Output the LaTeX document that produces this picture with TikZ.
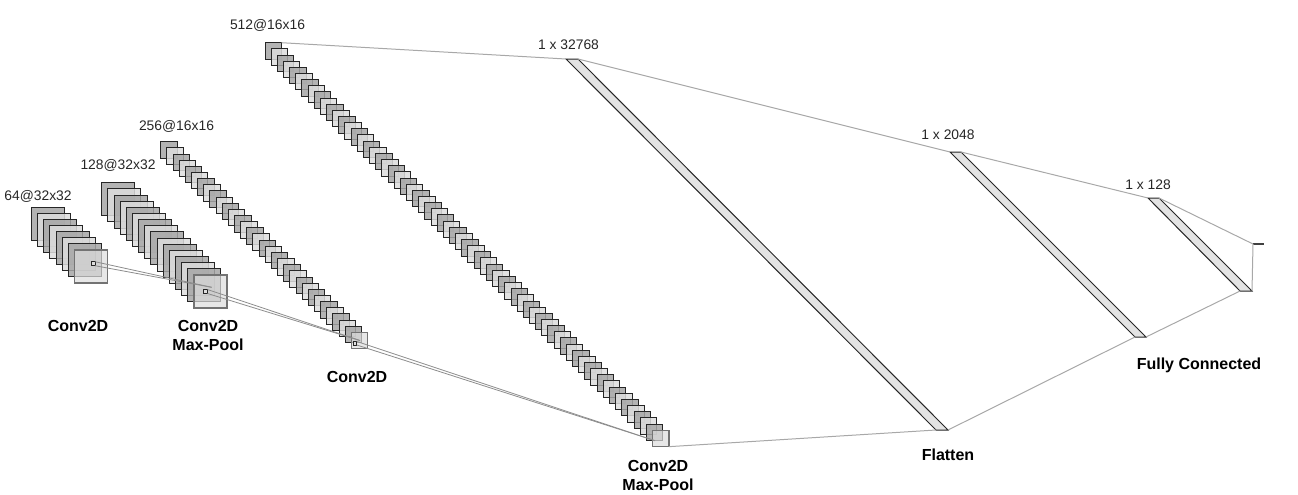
\documentclass[tikz,border=0pt]{standalone}
\usepackage{fontspec}
\setmainfont{Liberation Sans}
\usepackage{xcolor}

\definecolor{mapdark}{HTML}{A6A6A6}
\definecolor{maplight}{HTML}{DDDDDD}
\definecolor{linkgray}{HTML}{A8A8A8}
\definecolor{kerngray}{HTML}{8C8C8C}
\definecolor{barfill}{HTML}{E3E3E3}

\tikzset{
  fmap/.style={draw=black!85, line width=0.75pt, fill opacity=0.85},
  front/.style={draw=black!55, fill=maplight, fill opacity=0.7, line width=0.9pt},
  kbox/.style={draw=black!85, fill=maplight, line width=0.6pt},
  kline/.style={draw=kerngray, line width=0.6pt},
  link/.style={draw=linkgray, line width=0.75pt},
  bar/.style={draw=black!85, fill=barfill, line width=0.75pt},
  dimlabel/.style={font=\fontsize{10.4}{12}\selectfont, text=black!85},
  layerlabel/.style={font=\fontsize{12}{14.6}\selectfont\bfseries, align=center},
}

\begin{document}
\begin{tikzpicture}[x=0.75pt,y=-0.75pt]
  \useasboundingbox (0,0) rectangle (1298,494);

  % conv 1: 64@32x32
  \foreach \i in {0,...,6}{
    \ifodd\i \def\col{maplight}\else\def\col{mapdark}\fi
    \draw[fmap, fill=\col] ({31.5+6.15*\i},{207+6.15*\i}) rectangle ++(33,33);
  }
  \draw[front] (74.55,250.05) rectangle ++(33,33);
  \draw[kbox] (91,261.7) rectangle (95,265.7);
  \coordinate (k1a) at (95,261.7);
  \coordinate (k1b) at (95,265.7);

  % conv 2 + max-pool: 128@32x32
  \foreach \i in {0,...,14}{
    \ifodd\i \def\col{maplight}\else\def\col{mapdark}\fi
    \draw[fmap, fill=\col] ({101.7+6.15*\i},{182.7+6.15*\i}) rectangle ++(33,33);
  }
  \draw[front] (193.95,274.95) rectangle ++(33,33);
  \coordinate (tip2) at (211.7,287.3);
  \draw[kline] (k1a) -- (tip2);
  \draw[kline] (k1b) -- (tip2);
  \draw[kbox] (203.5,289.5) rectangle (207.5,293.5);
  \coordinate (k2a) at (207.5,289.5);
  \coordinate (k2b) at (207.5,293.5);

  % conv 3: 256@16x16
  \foreach \i in {0,...,30}{
    \ifodd\i \def\col{maplight}\else\def\col{mapdark}\fi
    \draw[fmap, fill=\col] ({160.7+6.15*\i},{141.7+6.15*\i}) rectangle ++(16.5,16.5);
  }
  \draw[front] (351.35,332.35) rectangle ++(16.5,16.5);
  \coordinate (tip3) at (360,340.5);
  \draw[kline] (k2a) -- (tip3);
  \draw[kline] (k2b) -- (tip3);
  \draw[kbox] (353.3,341.5) rectangle (356.8,345);
  \coordinate (k3a) at (356.8,341.5);
  \coordinate (k3b) at (356.8,345);

  % conv 4 + max-pool: 512@16x16
  \foreach \i in {0,...,62}{
    \ifodd\i \def\col{maplight}\else\def\col{mapdark}\fi
    \draw[fmap, fill=\col] ({265+6.15*\i},{42.7+6.15*\i}) rectangle ++(16.5,16.5);
  }
  \draw[front] (652.45,430.15) rectangle ++(16.5,16.5);
  \coordinate (tip4) at (655,440.7);
  \draw[kline] (k3a) -- (tip4);
  \draw[kline] (k3b) -- (tip4);
  \coordinate (m4top) at (281.5,42.7);
  \coordinate (m4bot) at (668.95,446.65);

  % flatten 1 x 32768
  \draw[bar] (566,59) coordinate (f1tl) -- (578,59) coordinate (f1tr)
    -- (948,430) coordinate (f1br) -- (936,430) coordinate (f1bl) -- cycle;
  % dense 1 x 2048
  \draw[bar] (950,152) coordinate (d1tl) -- (961,152) coordinate (d1tr)
    -- (1146,337) coordinate (d1br) -- (1135,337) coordinate (d1bl) -- cycle;
  % dense 1 x 128
  \draw[bar] (1148,198) coordinate (d2tl) -- (1159,198) coordinate (d2tr)
    -- (1252,291) coordinate (d2br) -- (1240,291) coordinate (d2bl) -- cycle;
  % output
  \coordinate (outl) at (1253,244);
  \coordinate (outr) at (1264,244);
  \draw[black!75, line width=1.1pt] (outl) -- (outr);

  \draw[link] (m4top) -- (f1tl);
  \draw[link] (m4bot) -- (f1bl);
  \draw[link] (f1tr) -- (d1tl);
  \draw[link] (f1br) -- (d1bl);
  \draw[link] (d1tr) -- (d2tl);
  \draw[link] (d1br) -- (d2bl);
  \draw[link] (d2tr) -- (outl);
  \draw[link] (d2br) -- (outl);

  % sizes
  \node[dimlabel] (s1) at (38,196) {64@32x32};
  \node[dimlabel] (s2) at (118,165) {128@32x32};
  \node[dimlabel] (s3) at (176.5,126) {256@16x16};
  \node[dimlabel] (s4) at (267.5,25) {512@16x16};
  \node[dimlabel] (s5) at (568.5,45) {1 x 32768};
  \node[dimlabel] (s6) at (948,135) {1 x 2048};
  \node[dimlabel] (s7) at (1148,185) {1 x 128};

  % layer names
  \node[layerlabel] (n1) at (78,325.5) {Conv2D};
  \node[layerlabel] (n2) at (208,335.5) {Conv2D\\Max-Pool};
  \node[layerlabel] (n3) at (357,377) {Conv2D};
  \node[layerlabel] (n4) at (658,475.5) {Conv2D\\Max-Pool};
  \node[layerlabel] (n5) at (948,455) {Flatten};
  \node[layerlabel] (n6) at (1199,365.5) {Fully Connected};
\end{tikzpicture}
\end{document}
